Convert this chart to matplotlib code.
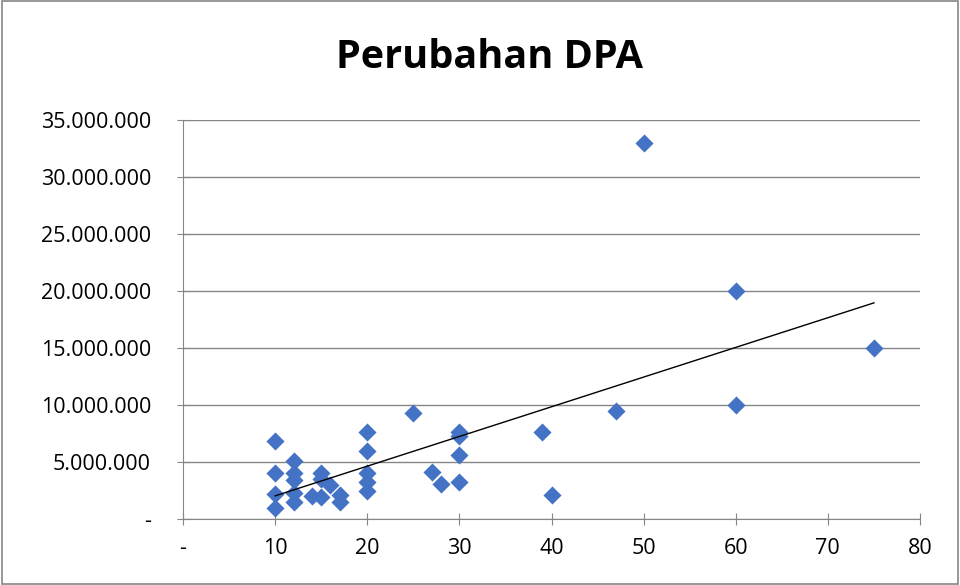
import matplotlib.pyplot as plt
import numpy as np
from matplotlib.ticker import FuncFormatter

# data
x_vals = [10, 10, 10, 10, 12, 12, 12, 12, 12, 14, 15, 15, 15, 16, 17, 17,
          20, 20, 20, 20, 20, 25, 27, 28, 30, 30, 30, 30, 39, 40, 47, 50,
          60, 60, 75]
y_vals = [6.8, 4.0, 2.2, 1.0, 5.1, 4.0, 3.4, 2.25, 1.5, 2.0, 4.0, 3.5, 1.95,
          3.0, 2.1, 1.5, 7.6, 6.0, 4.0, 3.25, 2.5, 9.3, 4.15, 3.05, 7.6, 7.3,
          5.6, 3.25, 7.6, 2.1, 9.5, 33.0, 20.0, 10.0, 15.0]
y_vals = [v * 1e6 for v in y_vals]

x = np.array(x_vals)
y = np.array(y_vals)

fig = plt.figure(figsize=(9.6, 5.85), dpi=100)
ax = fig.add_axes([183 / 960, 1 - 519 / 585, (920 - 183) / 960, (519 - 120) / 585])

ax.scatter(x, y, marker='D', s=85, color='#4472C4', zorder=3, linewidths=0)

# linear trendline
k, b = np.polyfit(x, y, 1)
xt = np.array([x.min(), x.max()])
ax.plot(xt, k * xt + b, color='black', linewidth=1, zorder=4)

ax.set_xlim(0, 80)
ax.set_ylim(0, 35e6)
ax.set_xticks(np.arange(0, 81, 10))
ax.set_yticks(np.arange(0, 35e6 + 1, 5e6))


def fmt_y(v, pos):
    if v == 0:
        return '-'
    return '{:,.0f}'.format(v).replace(',', '.')


ax.yaxis.set_major_formatter(FuncFormatter(fmt_y))
ax.xaxis.set_major_formatter(FuncFormatter(lambda v, p: '-' if v == 0 else '{:.0f}'.format(v)))

ax.grid(axis='y', color='#868686', linewidth=1)
ax.set_axisbelow(True)
for s in ['top', 'right']:
    ax.spines[s].set_visible(False)
for s in ['left', 'bottom']:
    ax.spines[s].set_color('#868686')
ax.tick_params(direction='inout', length=8, color='#868686', labelsize=15.5,
               labelcolor='black')
ax.tick_params(axis='y', pad=19)
ax.tick_params(axis='x', pad=10)
for lbl in ax.get_xticklabels() + ax.get_yticklabels():
    lbl.set_family('Open Sans')

fig.text(489 / 960, 1 - 58 / 585, 'Perubahan DPA', ha='center', va='center',
         fontsize=28.5, fontweight='bold', family='Open Sans')

# chart border
fig.patches.append(plt.Rectangle((0.002, 0.002), 0.996, 0.996, transform=fig.transFigure,
                                 fill=False, edgecolor='#868686', linewidth=1.2))

fig.savefig('out.png', dpi=100)
